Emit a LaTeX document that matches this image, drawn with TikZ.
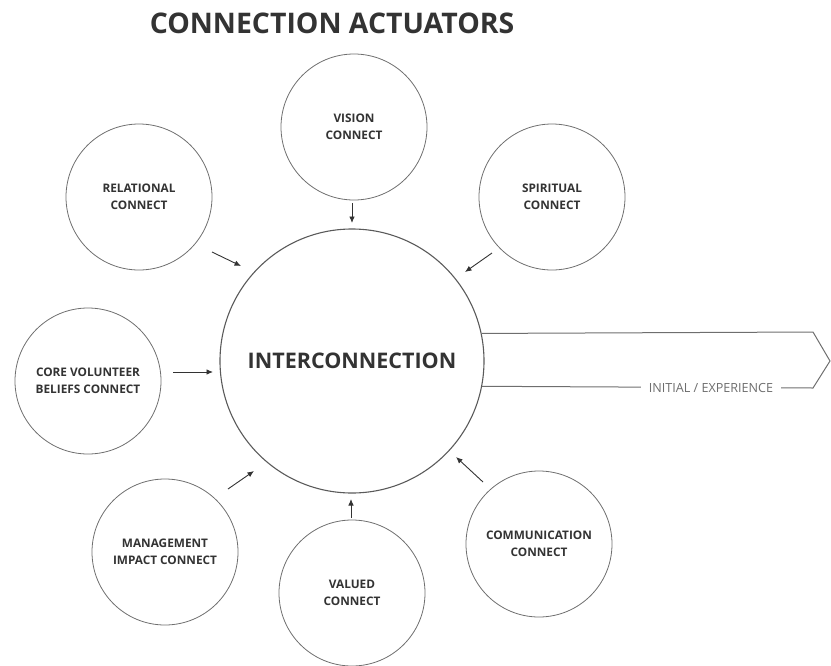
\documentclass[tikz,border=0pt]{standalone}
\usepackage{fontspec}
\setmainfont{Open Sans}
\usetikzlibrary{arrows.meta}
\definecolor{ink}{HTML}{333333}
\definecolor{rim}{HTML}{5A5A5A}
\definecolor{faint}{HTML}{6E6E6E}
\begin{document}
\begin{tikzpicture}[x=1pt,y=-1pt,
  hub/.style={circle,draw=rim,line width=1.1pt,minimum size=264pt,inner sep=0pt,
    font=\fontsize{21.5}{24}\selectfont\bfseries,text=ink},
  actuator/.style={circle,draw=faint,line width=0.8pt,minimum size=146pt,inner sep=0pt,
    align=center,font=\fontsize{11.8}{17}\selectfont\bfseries,text=ink},
  feed/.style={draw=ink,line width=0.9pt,-{Latex[length=6.5pt,width=5.5pt]}},
  outline/.style={draw=faint,line width=1pt,line join=miter}
]
\useasboundingbox (0,0) rectangle (831,665);

% title
\node[font=\fontsize{28.4}{32}\selectfont\bfseries,text=ink] (title) at (332,23) {CONNECTION ACTUATORS};

% central hub
\node[hub] (cen) at (352,361) {INTERCONNECTION};

% surrounding actuators
\node[actuator] (vis) at (354,127) {VISION\\CONNECT};
\node[actuator] (rel) at (139,197) {RELATIONAL\\CONNECT};
\node[actuator] (spi) at (552,197) {SPIRITUAL\\CONNECT};
\node[actuator] (core) at (88,381) {CORE VOLUNTEER\\BELIEFS CONNECT};
\node[actuator] (man) at (165,552) {MANAGEMENT\\IMPACT CONNECT};
\node[actuator] (val) at (352,593) {VALUED\\CONNECT};
\node[actuator] (com) at (539,544) {COMMUNICATION\\CONNECT};

% short arrows pointing into the hub
\coordinate (visA) at (352,203); \coordinate (visB) at (352,223);
\coordinate (relA) at (212,252); \coordinate (relB) at (241,266);
\coordinate (spiA) at (492,253); \coordinate (spiB) at (465,272);
\coordinate (coreA) at (173,372); \coordinate (coreB) at (213,372);
\coordinate (manA) at (228,489); \coordinate (manB) at (254,471);
\coordinate (valA) at (351,518); \coordinate (valB) at (351,499);
\coordinate (comA) at (483,482); \coordinate (comB) at (456,457);
\draw[feed] (visA) -- (visB);
\draw[feed] (relA) -- (relB);
\draw[feed] (spiA) -- (spiB);
\draw[feed] (coreA) -- (coreB);
\draw[feed] (manA) -- (manB);
\draw[feed] (valA) -- (valB);
\draw[feed] (comA) -- (comB);

% outgoing arrow band
\coordinate (bandTop) at (813,332);
\coordinate (bandTip) at (830,361);
\coordinate (bandBot) at (813,388);
\draw[outline] (cen.12.7) -- (bandTop) -- (bandTip) -- (bandBot) -- (cen.-11.8);
\node[fill=white,inner xsep=8pt,inner ysep=2pt,font=\fontsize{12.6}{14}\selectfont,text=faint]
  (out) at (711,388) {INITIAL / EXPERIENCE};
\end{tikzpicture}
\end{document}
